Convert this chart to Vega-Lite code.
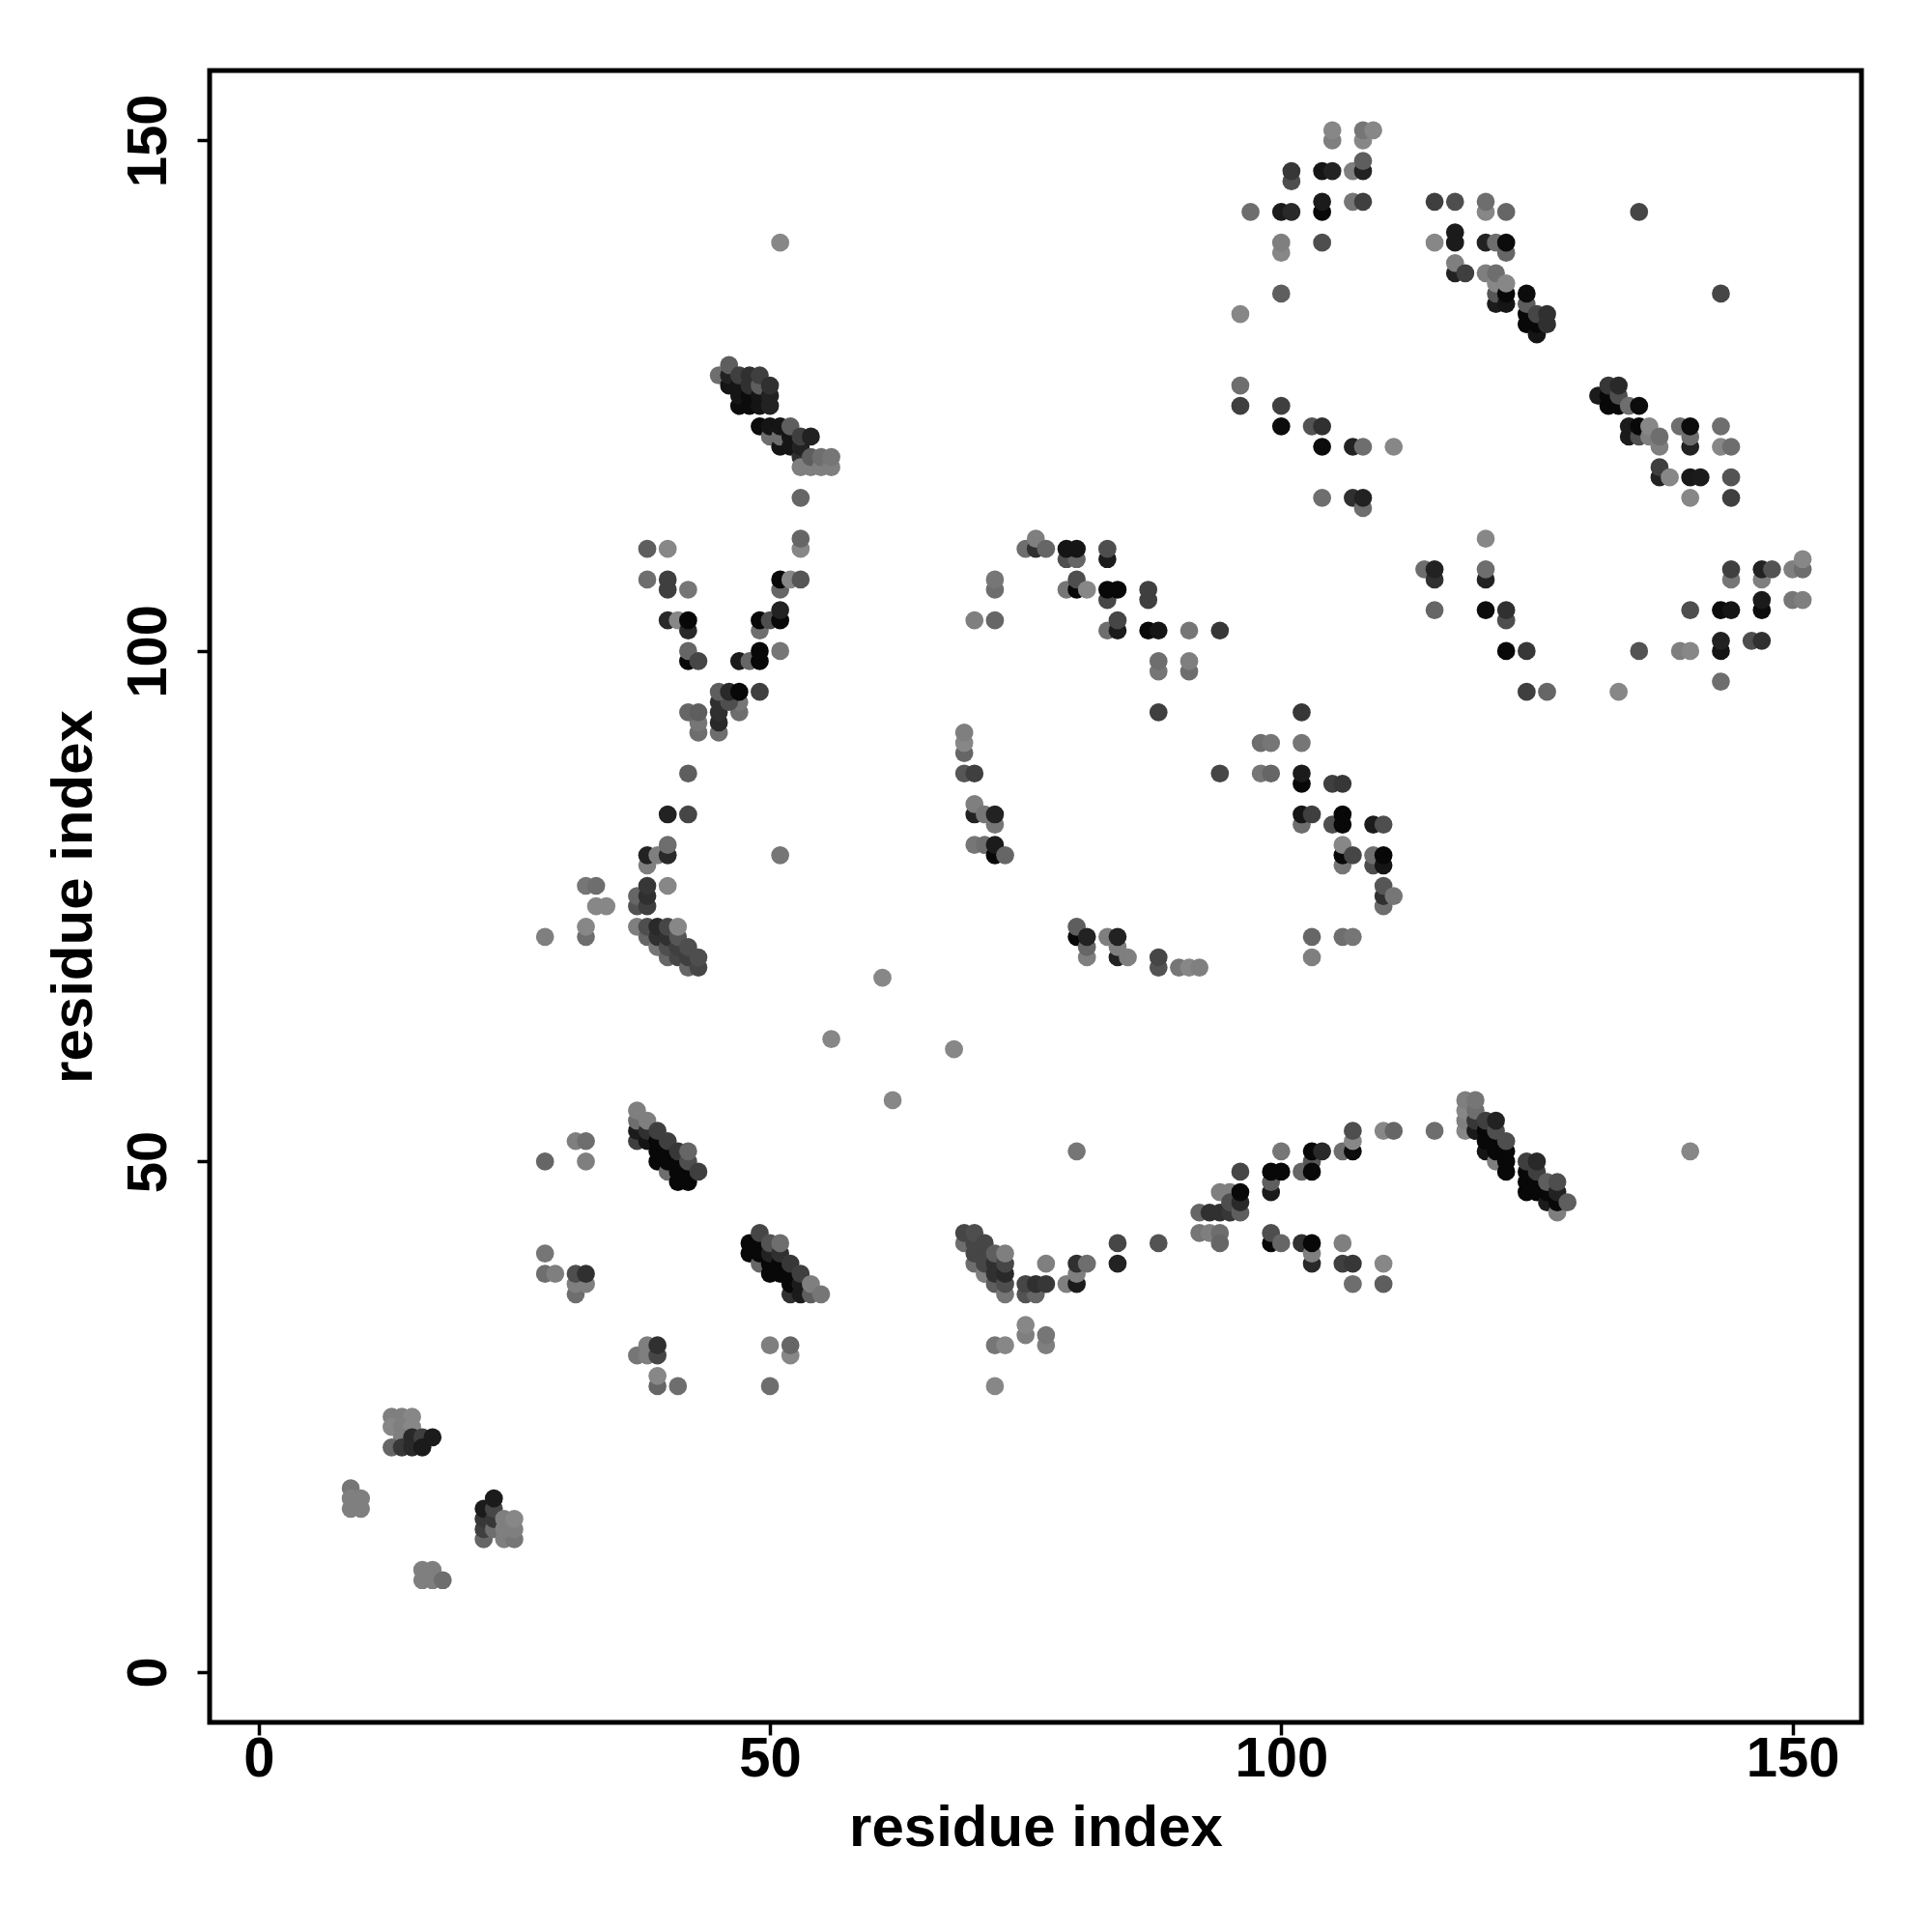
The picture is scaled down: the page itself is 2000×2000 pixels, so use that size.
{"$schema":"https://vega.github.io/schema/vega-lite/v6.json","autosize":{"type":"none"},"padding":{"left":217,"top":73,"right":73,"bottom":217},"width":1710,"height":1710,"background":"white","config":{"view":{"stroke":"black","strokeWidth":5}},"data":{"values":[
{"x":13,"y":25,"g":128},{"x":14,"y":25,"g":128},{"x":15,"y":25,"g":136},{"x":13,"y":24,"g":136},{"x":14,"y":24,"g":128},{"x":15,"y":24,"g":136},{"x":14,"y":23,"g":128},{"x":13,"y":22,"g":104},{"x":14,"y":22,"g":56},{"x":15,"y":23,"g":40},{"x":15,"y":22,"g":40},{"x":16,"y":23,"g":64},{"x":16,"y":22,"g":24},{"x":17,"y":23,"g":24},
{"x":9,"y":18,"g":120},{"x":9,"y":17,"g":128},{"x":9,"y":16,"g":128},{"x":10,"y":17,"g":128},{"x":10,"y":16,"g":128},
{"x":16,"y":10,"g":128},{"x":17,"y":10,"g":128},{"x":16,"y":9,"g":128},{"x":17,"y":9,"g":128},{"x":18,"y":9,"g":112},
{"x":22,"y":13,"g":104},{"x":22,"y":14,"g":64},{"x":22,"y":15,"g":56},{"x":22,"y":16,"g":24},{"x":23,"y":14,"g":112},{"x":23,"y":15,"g":56},{"x":23,"y":16,"g":72},{"x":23,"y":17,"g":24},{"x":24,"y":13,"g":128},{"x":25,"y":13,"g":120},{"x":24,"y":14,"g":128},{"x":25,"y":14,"g":128},{"x":24,"y":15,"g":128},{"x":25,"y":15,"g":136},
{"x":31,"y":52,"g":128},{"x":32,"y":52,"g":112},{"x":28,"y":50,"g":104},{"x":32,"y":50,"g":128},
{"x":37,"y":52,"g":64},{"x":37,"y":53,"g":24},{"x":37,"y":54,"g":112},{"x":37,"y":55,"g":128},{"x":38,"y":52,"g":16},{"x":38,"y":53,"g":48},{"x":38,"y":54,"g":128},{"x":39,"y":50,"g":5},{"x":39,"y":51,"g":5},{"x":39,"y":52,"g":5},{"x":39,"y":53,"g":64},{"x":40,"y":49,"g":112},{"x":40,"y":50,"g":5},{"x":40,"y":51,"g":5},{"x":40,"y":52,"g":64},{"x":41,"y":48,"g":5},{"x":41,"y":49,"g":5},{"x":41,"y":50,"g":5},{"x":41,"y":51,"g":56},{"x":42,"y":48,"g":5},{"x":42,"y":49,"g":5},{"x":42,"y":50,"g":80},{"x":42,"y":51,"g":104},{"x":43,"y":49,"g":64},
{"x":48,"y":41,"g":5},{"x":48,"y":42,"g":5},{"x":49,"y":40,"g":104},{"x":49,"y":41,"g":5},{"x":49,"y":42,"g":5},{"x":49,"y":43,"g":72},{"x":50,"y":39,"g":5},{"x":50,"y":40,"g":5},{"x":50,"y":41,"g":32},{"x":50,"y":42,"g":85},{"x":51,"y":39,"g":5},{"x":51,"y":40,"g":5},{"x":51,"y":41,"g":48},{"x":51,"y":42,"g":112},{"x":52,"y":37,"g":48},{"x":52,"y":38,"g":5},{"x":52,"y":39,"g":5},{"x":52,"y":40,"g":56},{"x":53,"y":37,"g":24},{"x":53,"y":38,"g":24},{"x":53,"y":39,"g":64},{"x":54,"y":37,"g":96},{"x":54,"y":38,"g":128},{"x":55,"y":37,"g":120},
{"x":28,"y":41,"g":120},{"x":28,"y":39,"g":112},{"x":29,"y":39,"g":128},{"x":31,"y":37,"g":112},{"x":31,"y":38,"g":128},{"x":32,"y":38,"g":128},{"x":31,"y":39,"g":80},{"x":32,"y":39,"g":48},
{"x":37,"y":31,"g":120},{"x":38,"y":31,"g":128},{"x":38,"y":32,"g":128},{"x":39,"y":31,"g":72},{"x":39,"y":32,"g":48},{"x":39,"y":28,"g":104},{"x":39,"y":29,"g":136},{"x":41,"y":28,"g":112},{"x":50,"y":32,"g":128},{"x":52,"y":31,"g":136},{"x":52,"y":32,"g":104},{"x":50,"y":28,"g":112},
{"x":62,"y":56,"g":136},{"x":80,"y":51,"g":120},
{"x":69,"y":42,"g":112},{"x":69,"y":43,"g":72},{"x":70,"y":40,"g":112},{"x":70,"y":41,"g":72},{"x":70,"y":42,"g":72},{"x":70,"y":43,"g":80},{"x":71,"y":39,"g":128},{"x":71,"y":40,"g":72},{"x":71,"y":41,"g":72},{"x":71,"y":42,"g":72},{"x":72,"y":38,"g":96},{"x":72,"y":39,"g":48},{"x":72,"y":40,"g":48},{"x":72,"y":41,"g":96},{"x":73,"y":37,"g":120},{"x":73,"y":38,"g":80},{"x":73,"y":39,"g":40},{"x":73,"y":40,"g":72},{"x":73,"y":41,"g":128},
{"x":75,"y":37,"g":85},{"x":76,"y":37,"g":104},{"x":75,"y":38,"g":72},{"x":76,"y":38,"g":48},{"x":77,"y":38,"g":56},{"x":77,"y":40,"g":128},{"x":79,"y":38,"g":128},{"x":80,"y":38,"g":24},{"x":80,"y":39,"g":128},{"x":80,"y":40,"g":48},{"x":81,"y":40,"g":112},{"x":84,"y":42,"g":72},{"x":84,"y":40,"g":32},{"x":88,"y":42,"g":85},
{"x":92,"y":45,"g":104},{"x":93,"y":45,"g":48},{"x":94,"y":45,"g":48},{"x":95,"y":45,"g":56},{"x":92,"y":43,"g":120},{"x":93,"y":43,"g":128},{"x":94,"y":43,"g":112},{"x":94,"y":42,"g":104},{"x":94,"y":47,"g":128},{"x":95,"y":47,"g":128},{"x":95,"y":46,"g":80},{"x":96,"y":45,"g":96},{"x":96,"y":46,"g":40},{"x":96,"y":47,"g":5},{"x":96,"y":49,"g":72},
{"x":99,"y":47,"g":24},{"x":99,"y":48,"g":96},{"x":99,"y":49,"g":5},{"x":100,"y":49,"g":5},{"x":100,"y":51,"g":120},{"x":102,"y":49,"g":104},{"x":103,"y":50,"g":88},{"x":103,"y":49,"g":5},{"x":103,"y":51,"g":5},{"x":104,"y":51,"g":40},{"x":106,"y":51,"g":112},{"x":107,"y":51,"g":8},{"x":107,"y":52,"g":136},{"x":107,"y":53,"g":80},
{"x":99,"y":42,"g":5},{"x":99,"y":43,"g":80},{"x":100,"y":42,"g":104},{"x":102,"y":42,"g":48},{"x":103,"y":40,"g":40},{"x":103,"y":41,"g":128},{"x":103,"y":42,"g":5},{"x":106,"y":42,"g":128},{"x":106,"y":40,"g":64},{"x":107,"y":40,"g":56},{"x":107,"y":38,"g":112},
{"x":72,"y":32,"g":120},{"x":73,"y":32,"g":136},{"x":75,"y":33,"g":128},{"x":75,"y":34,"g":136},{"x":77,"y":32,"g":128},{"x":77,"y":33,"g":120},{"x":72,"y":28,"g":136},
{"x":110,"y":53,"g":136},{"x":111,"y":53,"g":104},{"x":115,"y":53,"g":112},
{"x":118,"y":53,"g":136},{"x":118,"y":54,"g":128},{"x":118,"y":55,"g":136},{"x":118,"y":56,"g":128},{"x":119,"y":53,"g":24},{"x":119,"y":54,"g":56},{"x":119,"y":55,"g":112},{"x":119,"y":56,"g":120},{"x":120,"y":51,"g":16},{"x":120,"y":52,"g":5},{"x":120,"y":53,"g":5},{"x":120,"y":54,"g":64},{"x":121,"y":50,"g":128},{"x":121,"y":51,"g":5},{"x":121,"y":52,"g":5},{"x":121,"y":53,"g":80},{"x":121,"y":54,"g":32},{"x":122,"y":49,"g":5},{"x":122,"y":50,"g":5},{"x":122,"y":51,"g":5},{"x":122,"y":52,"g":80},
{"x":124,"y":47,"g":5},{"x":124,"y":48,"g":5},{"x":124,"y":49,"g":5},{"x":124,"y":50,"g":64},{"x":125,"y":47,"g":5},{"x":125,"y":48,"g":5},{"x":125,"y":49,"g":64},{"x":125,"y":50,"g":40},{"x":126,"y":46,"g":24},{"x":126,"y":47,"g":5},{"x":126,"y":48,"g":96},{"x":127,"y":45,"g":128},{"x":127,"y":46,"g":5},{"x":127,"y":47,"g":32},{"x":127,"y":48,"g":80},{"x":128,"y":46,"g":96},
{"x":110,"y":40,"g":136},{"x":110,"y":38,"g":96},{"x":140,"y":51,"g":136},
{"x":53,"y":115,"g":104},{"x":53,"y":110,"g":136},{"x":53,"y":111,"g":104},{"x":38,"y":110,"g":96},{"x":40,"y":110,"g":136},{"x":38,"y":107,"g":112},{"x":40,"y":106,"g":64},{"x":40,"y":107,"g":64},{"x":42,"y":106,"g":120},
{"x":51,"y":106,"g":104},{"x":51,"y":107,"g":5},{"x":52,"y":107,"g":136},{"x":53,"y":107,"g":88},
{"x":40,"y":103,"g":40},{"x":41,"y":103,"g":136},{"x":42,"y":102,"g":40},{"x":42,"y":103,"g":5},{"x":42,"y":99,"g":5},{"x":42,"y":100,"g":104},{"x":43,"y":99,"g":72},
{"x":49,"y":102,"g":112},{"x":49,"y":103,"g":5},{"x":50,"y":103,"g":80},{"x":51,"y":103,"g":5},{"x":51,"y":104,"g":32},{"x":51,"y":100,"g":120},{"x":47,"y":99,"g":24},{"x":48,"y":99,"g":104},{"x":49,"y":99,"g":5},{"x":49,"y":100,"g":5},
{"x":47,"y":94,"g":112},{"x":47,"y":95,"g":120},{"x":45,"y":92,"g":112},{"x":45,"y":93,"g":40},{"x":45,"y":94,"g":48},{"x":45,"y":95,"g":48},{"x":46,"y":95,"g":80},{"x":45,"y":96,"g":96},{"x":46,"y":96,"g":40},{"x":47,"y":96,"g":5},{"x":49,"y":96,"g":64},
{"x":43,"y":92,"g":112},{"x":43,"y":93,"g":120},{"x":42,"y":94,"g":104},{"x":43,"y":94,"g":96},{"x":42,"y":88,"g":96},{"x":40,"y":84,"g":32},{"x":42,"y":84,"g":72},{"x":51,"y":80,"g":120},
{"x":38,"y":79,"g":128},{"x":38,"y":80,"g":32},{"x":39,"y":80,"g":128},{"x":40,"y":80,"g":40},{"x":40,"y":81,"g":112},{"x":40,"y":77,"g":136},
{"x":32,"y":77,"g":120},{"x":33,"y":77,"g":112},{"x":33,"y":75,"g":136},{"x":34,"y":75,"g":136},{"x":32,"y":72,"g":112},{"x":32,"y":73,"g":136},{"x":28,"y":72,"g":128},
{"x":37,"y":75,"g":85},{"x":37,"y":76,"g":104},{"x":38,"y":75,"g":64},{"x":38,"y":76,"g":48},{"x":38,"y":77,"g":56},
{"x":37,"y":73,"g":128},{"x":38,"y":72,"g":104},{"x":38,"y":73,"g":80},{"x":39,"y":71,"g":120},{"x":39,"y":72,"g":48},{"x":39,"y":73,"g":40},{"x":40,"y":70,"g":104},{"x":40,"y":71,"g":80},{"x":40,"y":72,"g":48},{"x":40,"y":73,"g":72},{"x":41,"y":70,"g":72},{"x":41,"y":71,"g":64},{"x":41,"y":72,"g":88},{"x":41,"y":73,"g":136},{"x":42,"y":69,"g":104},{"x":42,"y":70,"g":64},{"x":42,"y":71,"g":80},{"x":43,"y":69,"g":72},{"x":43,"y":70,"g":80},
{"x":61,"y":68,"g":136},{"x":56,"y":62,"g":136},{"x":68,"y":61,"g":136},{"x":51,"y":140,"g":136},
{"x":45,"y":127,"g":112},{"x":46,"y":126,"g":16},{"x":46,"y":127,"g":32},{"x":46,"y":128,"g":96},{"x":47,"y":124,"g":8},{"x":47,"y":125,"g":16},{"x":47,"y":126,"g":16},{"x":47,"y":127,"g":64},{"x":48,"y":124,"g":8},{"x":48,"y":125,"g":8},{"x":48,"y":126,"g":48},{"x":48,"y":127,"g":48},{"x":49,"y":124,"g":16},{"x":49,"y":125,"g":16},{"x":49,"y":126,"g":96},{"x":49,"y":127,"g":64},{"x":50,"y":124,"g":32},{"x":50,"y":125,"g":32},{"x":50,"y":126,"g":48},
{"x":49,"y":122,"g":8},{"x":50,"y":121,"g":112},{"x":50,"y":122,"g":16},{"x":51,"y":120,"g":16},{"x":51,"y":121,"g":112},{"x":51,"y":122,"g":16},{"x":52,"y":120,"g":16},{"x":52,"y":121,"g":16},{"x":52,"y":122,"g":96},{"x":53,"y":119,"g":48},{"x":53,"y":120,"g":32},{"x":53,"y":121,"g":64},{"x":54,"y":121,"g":32},{"x":53,"y":118,"g":128},{"x":54,"y":118,"g":128},{"x":54,"y":119,"g":96},{"x":55,"y":118,"g":128},{"x":55,"y":119,"g":112},{"x":56,"y":118,"g":128},{"x":56,"y":119,"g":120},
{"x":75,"y":110,"g":112},{"x":76,"y":110,"g":48},{"x":76,"y":111,"g":128},{"x":77,"y":110,"g":104},{"x":79,"y":109,"g":80},{"x":80,"y":109,"g":104},{"x":79,"y":110,"g":16},{"x":80,"y":110,"g":16},{"x":83,"y":109,"g":24},{"x":83,"y":110,"g":80},
{"x":72,"y":106,"g":112},{"x":72,"y":107,"g":120},{"x":79,"y":106,"g":120},{"x":80,"y":106,"g":5},{"x":80,"y":107,"g":80},{"x":81,"y":106,"g":136},{"x":83,"y":105,"g":72},{"x":83,"y":106,"g":5},{"x":84,"y":106,"g":5},{"x":87,"y":105,"g":64},{"x":87,"y":106,"g":64},
{"x":70,"y":103,"g":128},{"x":72,"y":103,"g":104},{"x":83,"y":102,"g":112},{"x":84,"y":102,"g":24},{"x":84,"y":103,"g":72},{"x":87,"y":102,"g":5},{"x":88,"y":102,"g":16},{"x":91,"y":102,"g":120},{"x":94,"y":102,"g":56},
{"x":88,"y":98,"g":120},{"x":88,"y":99,"g":112},{"x":91,"y":98,"g":112},{"x":91,"y":99,"g":128},{"x":88,"y":94,"g":64},{"x":102,"y":94,"g":56},
{"x":69,"y":90,"g":104},{"x":69,"y":91,"g":136},{"x":69,"y":92,"g":128},{"x":69,"y":88,"g":88},{"x":70,"y":88,"g":64},{"x":94,"y":88,"g":72},
{"x":98,"y":91,"g":112},{"x":99,"y":91,"g":120},{"x":102,"y":91,"g":120},{"x":98,"y":88,"g":120},{"x":99,"y":88,"g":104},{"x":102,"y":87,"g":5},{"x":102,"y":88,"g":24},{"x":105,"y":87,"g":64},{"x":106,"y":87,"g":56},
{"x":70,"y":84,"g":32},{"x":70,"y":85,"g":128},{"x":71,"y":84,"g":120},{"x":72,"y":83,"g":120},{"x":72,"y":84,"g":32},{"x":70,"y":81,"g":120},{"x":71,"y":81,"g":112},{"x":72,"y":80,"g":5},{"x":72,"y":81,"g":24},{"x":73,"y":80,"g":104},
{"x":102,"y":83,"g":112},{"x":102,"y":84,"g":16},{"x":103,"y":84,"g":64},{"x":105,"y":83,"g":80},{"x":106,"y":83,"g":5},{"x":106,"y":84,"g":5},{"x":109,"y":83,"g":24},{"x":110,"y":83,"g":80},
{"x":106,"y":79,"g":120},{"x":106,"y":80,"g":5},{"x":106,"y":81,"g":136},{"x":107,"y":80,"g":72},{"x":109,"y":79,"g":80},{"x":109,"y":80,"g":112},{"x":110,"y":79,"g":16},{"x":110,"y":80,"g":5},{"x":110,"y":75,"g":112},{"x":110,"y":76,"g":48},{"x":110,"y":77,"g":88},{"x":111,"y":76,"g":120},
{"x":80,"y":72,"g":5},{"x":80,"y":73,"g":96},{"x":81,"y":70,"g":128},{"x":81,"y":71,"g":104},{"x":81,"y":72,"g":32},{"x":83,"y":72,"g":128},{"x":84,"y":70,"g":32},{"x":84,"y":71,"g":128},{"x":84,"y":72,"g":32},{"x":85,"y":70,"g":128},{"x":88,"y":69,"g":85},{"x":88,"y":70,"g":72},{"x":90,"y":69,"g":120},{"x":91,"y":69,"g":136},{"x":92,"y":69,"g":128},{"x":103,"y":72,"g":104},{"x":103,"y":70,"g":128},{"x":106,"y":72,"g":112},{"x":107,"y":72,"g":120},
{"x":105,"y":150,"g":128},{"x":105,"y":151,"g":136},{"x":108,"y":150,"g":136},{"x":108,"y":151,"g":120},{"x":109,"y":151,"g":136},{"x":101,"y":146,"g":80},{"x":101,"y":147,"g":56},{"x":104,"y":147,"g":16},{"x":105,"y":147,"g":32},{"x":107,"y":147,"g":128},{"x":108,"y":147,"g":32},{"x":108,"y":148,"g":96},
{"x":97,"y":143,"g":112},{"x":100,"y":143,"g":24},{"x":101,"y":143,"g":40},{"x":104,"y":143,"g":5},{"x":104,"y":144,"g":24},{"x":107,"y":144,"g":120},{"x":108,"y":144,"g":64},{"x":100,"y":139,"g":136},{"x":100,"y":140,"g":128},{"x":104,"y":140,"g":80},{"x":100,"y":135,"g":96},{"x":96,"y":133,"g":136},{"x":96,"y":126,"g":112},{"x":96,"y":124,"g":64},{"x":100,"y":124,"g":64},{"x":100,"y":122,"g":8},{"x":103,"y":122,"g":85},{"x":104,"y":122,"g":48},{"x":104,"y":120,"g":8},{"x":107,"y":120,"g":32},{"x":108,"y":120,"g":112},{"x":111,"y":120,"g":136},{"x":104,"y":115,"g":112},{"x":107,"y":115,"g":48},{"x":108,"y":114,"g":112},{"x":108,"y":115,"g":32},
{"x":115,"y":144,"g":64},{"x":117,"y":144,"g":80},{"x":120,"y":143,"g":136},{"x":120,"y":144,"g":112},{"x":122,"y":143,"g":104},{"x":117,"y":141,"g":24},{"x":115,"y":140,"g":136},{"x":117,"y":140,"g":24},{"x":120,"y":140,"g":32},{"x":121,"y":140,"g":112},{"x":122,"y":139,"g":104},{"x":122,"y":140,"g":8},{"x":117,"y":137,"g":32},{"x":117,"y":138,"g":128},{"x":118,"y":137,"g":64},
{"x":120,"y":137,"g":128},{"x":121,"y":134,"g":24},{"x":121,"y":135,"g":88},{"x":121,"y":136,"g":136},{"x":121,"y":137,"g":112},{"x":122,"y":134,"g":16},{"x":122,"y":135,"g":5},{"x":122,"y":136,"g":136},
{"x":124,"y":132,"g":5},{"x":124,"y":133,"g":5},{"x":124,"y":134,"g":96},{"x":124,"y":135,"g":8},{"x":125,"y":131,"g":16},{"x":125,"y":132,"g":5},{"x":125,"y":133,"g":72},{"x":126,"y":132,"g":48},{"x":126,"y":133,"g":48},{"x":135,"y":143,"g":72},{"x":143,"y":135,"g":72},
{"x":131,"y":125,"g":24},{"x":132,"y":124,"g":5},{"x":132,"y":125,"g":5},{"x":132,"y":126,"g":56},{"x":133,"y":124,"g":5},{"x":133,"y":125,"g":80},{"x":133,"y":126,"g":40},{"x":134,"y":124,"g":112},{"x":135,"y":124,"g":8},
{"x":134,"y":121,"g":24},{"x":134,"y":122,"g":24},{"x":135,"y":121,"g":80},{"x":135,"y":122,"g":5},{"x":136,"y":121,"g":128},{"x":136,"y":122,"g":136},{"x":137,"y":120,"g":128},{"x":137,"y":121,"g":112},{"x":139,"y":122,"g":112},{"x":140,"y":120,"g":32},{"x":140,"y":121,"g":112},{"x":140,"y":122,"g":8},{"x":143,"y":122,"g":112},{"x":143,"y":120,"g":136},{"x":144,"y":120,"g":112},
{"x":137,"y":117,"g":32},{"x":137,"y":118,"g":64},{"x":138,"y":117,"g":136},{"x":140,"y":117,"g":20},{"x":141,"y":117,"g":24},{"x":144,"y":117,"g":85},{"x":140,"y":115,"g":136},{"x":144,"y":115,"g":64},
{"x":120,"y":111,"g":136},{"x":114,"y":108,"g":112},{"x":115,"y":107,"g":48},{"x":115,"y":108,"g":32},{"x":120,"y":107,"g":32},{"x":120,"y":108,"g":112},{"x":115,"y":104,"g":104},{"x":120,"y":104,"g":8},{"x":122,"y":103,"g":80},{"x":122,"y":104,"g":48},{"x":122,"y":100,"g":5},{"x":124,"y":100,"g":56},{"x":124,"y":96,"g":64},{"x":126,"y":96,"g":104},{"x":133,"y":96,"g":136},{"x":135,"y":100,"g":85},{"x":139,"y":100,"g":128},{"x":140,"y":100,"g":136},
{"x":140,"y":104,"g":80},{"x":143,"y":104,"g":8},{"x":144,"y":104,"g":16},{"x":144,"y":107,"g":120},{"x":144,"y":108,"g":64},{"x":147,"y":107,"g":128},{"x":147,"y":108,"g":32},{"x":148,"y":108,"g":85},{"x":150,"y":108,"g":128},{"x":151,"y":108,"g":112},{"x":151,"y":109,"g":136},{"x":147,"y":104,"g":8},{"x":147,"y":105,"g":24},{"x":150,"y":105,"g":120},{"x":151,"y":105,"g":128},{"x":143,"y":100,"g":16},{"x":143,"y":101,"g":32},{"x":146,"y":101,"g":80},{"x":147,"y":101,"g":48},{"x":143,"y":97,"g":112}
]},"mark":{"type":"point","shape":"circle","filled":true,"opacity":1,"size":350},"encoding":{
"x":{"field":"x","type":"quantitative","scale":{"domain":[-4.8,156.75],"nice":false,"zero":false},"axis":{"values":[0,50,100,150],"title":"residue index","grid":false,"domain":false,"tickColor":"black","tickWidth":3.5,"tickSize":13,"labelFont":"Liberation Sans","labelFontWeight":"bold","labelFontSize":58,"labelColor":"black","labelPadding":-4,"labelOverlap":false,"labelFlush":false,"titleFont":"Liberation Sans","titleFontWeight":"bold","titleFontSize":60,"titleColor":"black","titlePadding":13}},
"y":{"field":"y","type":"quantitative","scale":{"domain":[-4.93,156.85],"nice":false,"zero":false},"axis":{"values":[0,50,100,150],"title":"residue index","grid":false,"domain":false,"tickColor":"black","tickWidth":3.5,"tickSize":13,"labelFont":"Liberation Sans","labelFontWeight":"bold","labelFontSize":58,"labelColor":"black","labelAngle":-90,"labelAlign":"center","labelBaseline":"alphabetic","labelPadding":33,"labelOverlap":false,"labelFlush":false,"titleFont":"Liberation Sans","titleFontWeight":"bold","titleFontSize":60,"titleColor":"black","titlePadding":18}},
"color":{"field":"g","type":"quantitative","legend":null,"scale":{"domain":[0,144],"range":["#000000","#909090"]}}}}
